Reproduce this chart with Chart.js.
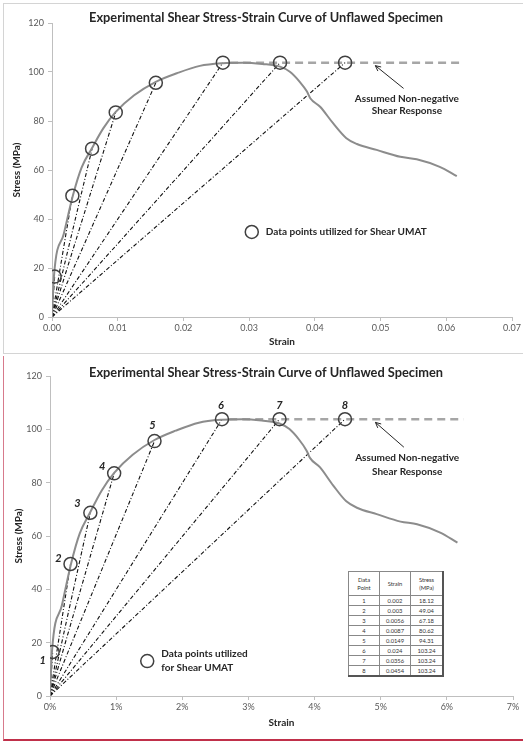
<!DOCTYPE html>
<html>
<head>
<meta charset="utf-8">
<script src="https://cdn.jsdelivr.net/npm/chart.js@4.4.1/dist/chart.umd.min.js"></script>
<style>
  body { margin: 0; background: #fff; width: 523px; height: 743px; position: relative; overflow: hidden; font-family: Lato, sans-serif; }
  canvas { position: absolute; left: 0; }
  #topChart { top: 0; }
  #bottomChart { top: 355px; }
  .frameTop { position: absolute; left: 3px; top: 3px; width: 540px; height: 349px; border: 1px solid #d4d4d4; border-right: none; }
  .frameBottom { position: absolute; left: 3px; top: 356px; width: 540px; height: 383px; border-left: 1px solid #d77a8c; border-bottom: 2px solid #c0304a; }
  #pointTable { position: absolute; left: 348px; top: 571px; border-collapse: collapse; font-family: Lato, sans-serif; font-size: 5.8px; color: #333; background: #fff; border-right: 2px solid #555; border-bottom: 2px solid #555; }
  #pointTable td, #pointTable th { border: 1px solid #888; text-align: center; padding: 0; height: 9px; line-height: 8px; font-weight: normal; }
  #pointTable th { height: 23px; line-height: 8px; }
</style>
</head>
<body>
<div class="frameTop"></div>
<div class="frameBottom"></div>
<canvas id="topChart" width="523" height="353"></canvas>
<canvas id="bottomChart" width="523" height="388"></canvas>
<table id="pointTable"></table>
<script>
// chart text
const chartTitle = 'Experimental Shear Stress-Strain Curve of Unflawed Specimen';
const noteLines = ['Assumed Non-negative', 'Shear Response'];

// measured shear stress-strain curve (strain, MPa)
const curveStrain = [0, 0.0003, 0.0018, 0.0032, 0.0045, 0.0061, 0.0078, 0.0097, 0.0125, 0.0158, 0.019, 0.0225, 0.026, 0.029, 0.032, 0.0347, 0.0362, 0.0377, 0.0388, 0.0393, 0.0408, 0.0428, 0.0448, 0.0464, 0.0494, 0.053, 0.0555, 0.059, 0.0616];
const curveStress = [0, 16.7, 34, 49.8, 61, 69, 77, 83.7, 90.5, 96, 99.5, 102.5, 103.6, 103.8, 103.3, 102.2, 100.1, 96, 92, 89.3, 85.8, 79, 73, 70.6, 68.2, 65.4, 64.4, 61.3, 57.5];

// assumed plateau after peak
const plateauStrain = [0.0271, 0.0625];
const plateauStress = [103.8, 103.8];

// circled points used for the UMAT
const pointStrain = [0.0004, 0.0031, 0.0061, 0.0097, 0.0158, 0.026, 0.0347, 0.0446];
const pointStress = [16.5, 49.5, 68.7, 83.5, 95.6, 103.8, 103.8, 103.8];
const pointLabels = ['1', '2', '3', '4', '5', '6', '7', '8'];

// values from the inset table
const tableStrain = ['0.002', '0.003', '0.0056', '0.0087', '0.0149', '0.024', '0.0356', '0.0454'];
const tableStress = ['18.12', '49.04', '67.18', '80.62', '94.31', '103.24', '103.24', '103.24'];

// axes
const xMax = 0.07, xStep = 0.01;
const yMax = 120, yStep = 20;

// fill the table
const table = document.getElementById('pointTable');
let html = '<tr><th style="width:30px">Data<br>Point</th><th style="width:30px">Strain</th><th style="width:31px">Stress<br>(MPa)</th></tr>';
pointLabels.forEach(function(p, i) {
    const thick = (i % 2 === 1) ? ' style="border-bottom:1.5px solid #444"' : '';
    html += '<tr' + thick + '><td>' + p + '</td><td>' + tableStrain[i] + '</td><td>' + tableStress[i] + '</td></tr>';
});
table.innerHTML = html;

function xy(xs, ys) {
    return xs.map(function(v, i) { return { x: v, y: ys[i] }; });
}

// draws title, note, arrow, legend and point numbers
const annotations = {
    id: 'annotations',
    afterDatasetsDraw(chart, args, o) {
        const ctx = chart.ctx;
        const x = chart.scales.x, y = chart.scales.y;
        ctx.save();
        ctx.fillStyle = '#262626';
        ctx.textAlign = 'center';
        ctx.textBaseline = 'middle';
        ctx.font = 'bold 12.8px Lato';
        ctx.fillText(chartTitle, 266, 18);

        // note text + arrow
        ctx.font = 'bold 10px Lato';
        ctx.fillText(noteLines[0], x.getPixelForValue(0.054), y.getPixelForValue(89.2));
        ctx.fillText(noteLines[1], x.getPixelForValue(0.054), y.getPixelForValue(84));
        const ax0 = x.getPixelForValue(0.0535), ay0 = y.getPixelForValue(93.3);
        const ax1 = x.getPixelForValue(0.0492), ay1 = y.getPixelForValue(102.6);
        ctx.strokeStyle = '#262626';
        ctx.lineWidth = 1;
        ctx.beginPath();
        ctx.moveTo(ax0, ay0);
        ctx.lineTo(ax1, ay1);
        const ang = Math.atan2(ay1 - ay0, ax1 - ax0);
        ctx.moveTo(ax1, ay1);
        ctx.lineTo(ax1 - 6 * Math.cos(ang - 0.45), ay1 - 6 * Math.sin(ang - 0.45));
        ctx.moveTo(ax1, ay1);
        ctx.lineTo(ax1 - 6 * Math.cos(ang + 0.45), ay1 - 6 * Math.sin(ang + 0.45));
        ctx.stroke();

        // legend
        const lx = x.getPixelForValue(o.legendX), ly = y.getPixelForValue(o.legendY);
        ctx.strokeStyle = '#404040';
        ctx.lineWidth = 1.5;
        ctx.beginPath();
        ctx.arc(lx, ly, 6.5, 0, Math.PI * 2);
        ctx.stroke();
        ctx.textAlign = 'left';
        ctx.font = 'bold 10px Lato';
        o.legendLines.forEach(function(t, i) {
            ctx.fillText(t, lx + 14, ly + (i - (o.legendLines.length - 1) / 2) * 14);
        });

        // numbered circles
        if (o.labelOffsets) {
            ctx.textAlign = 'center';
            ctx.font = 'italic bold 11px Lato';
            pointLabels.forEach(function(t, i) {
                const off = o.labelOffsets[i];
                ctx.fillText(t, x.getPixelForValue(pointStrain[i]) + off[0], y.getPixelForValue(pointStress[i]) + off[1]);
            });
        }
        ctx.restore();
    }
};

function makeChart(id, cfg) {
    const tickFont = { family: 'Lato', size: 9 };
    const titleFont = { family: 'Lato', size: 10, weight: 'bold' };
    const datasets = [];
    // circles
    datasets.push({
        data: xy(pointStrain, pointStress),
        showLine: false,
        pointRadius: 6.5,
        pointBorderWidth: 1.5,
        pointBorderColor: '#404040',
        pointBackgroundColor: 'rgba(0,0,0,0)'
    });
    // curve
    datasets.push({
        data: xy(curveStrain, curveStress),
        showLine: true,
        borderColor: '#8c8c8c',
        borderWidth: 2,
        pointRadius: 0,
        cubicInterpolationMode: 'monotone'
    });
    // plateau
    datasets.push({
        data: xy(plateauStrain, plateauStress),
        showLine: true,
        borderColor: '#a6a6a6',
        borderWidth: 2.5,
        borderDash: [8, 5],
        pointRadius: 0
    });
    // secant lines from origin
    pointStrain.forEach(function(s, i) {
        datasets.push({
            data: [{ x: 0, y: 0 }, { x: s, y: pointStress[i] }],
            showLine: true,
            borderColor: '#111',
            borderWidth: 1.1,
            borderDash: [4, 2, 1, 2],
            pointRadius: 0
        });
    });

    return new Chart(document.getElementById(id), {
        type: 'scatter',
        data: { datasets: datasets },
        plugins: [annotations],
        options: {
            responsive: false,
            animation: false,
            layout: { padding: { left: 0, right: cfg.padRight, top: cfg.padTop, bottom: 0 } },
            plugins: {
                legend: { display: false },
                tooltip: { enabled: false },
                annotations: cfg
            },
            scales: {
                x: {
                    type: 'linear', min: 0, max: xMax,
                    ticks: { stepSize: xStep, font: tickFont, color: '#595959', padding: 2, maxRotation: 0, callback: cfg.xFormat },
                    grid: { drawOnChartArea: false, tickLength: 4, color: '#bfbfbf' },
                    border: { color: '#bfbfbf' },
                    title: { display: true, text: 'Strain', font: titleFont, color: '#262626', padding: { top: 2, bottom: cfg.xTitlePad } },
                    afterFit: function(s) { s.height = cfg.xHeight; }
                },
                y: {
                    min: 0, max: yMax,
                    ticks: { stepSize: yStep, font: tickFont, color: '#595959', padding: 4 },
                    grid: { drawOnChartArea: false, tickLength: 4, color: '#bfbfbf' },
                    border: { color: '#bfbfbf' },
                    title: { display: true, text: 'Stress (MPa)', font: titleFont, color: '#262626', padding: { top: cfg.yTitlePad, bottom: 0 } },
                    afterFit: function(s) { s.width = cfg.yWidth; }
                }
            }
        }
    });
}

// upper chart, decimal strain
makeChart('topChart', {
    padRight: 11, padTop: 23, xHeight: 36, yWidth: 52, xTitlePad: 5, yTitlePad: 11,
    xFormat: function(v) { return v.toFixed(2); },
    legendX: 0.0304, legendY: 34.7,
    legendLines: ['Data points utilized for Shear UMAT'],
    labelOffsets: null
});

// lower chart, percent strain with numbered points
makeChart('bottomChart', {
    padRight: 10, padTop: 21, xHeight: 47, yWidth: 50, xTitlePad: 14, yTitlePad: 13,
    xFormat: function(v) { return Math.round(v * 100) + '%'; },
    legendX: 0.0147, legendY: 13.1,
    legendLines: ['Data points utilized', 'for Shear UMAT'],
    labelOffsets: [[-10, 8], [-12, -6], [-13, -9], [-12, -7], [-2, -16], [-1, -14], [0, -14], [0, -14]]
});
</script>
</body>
</html>
